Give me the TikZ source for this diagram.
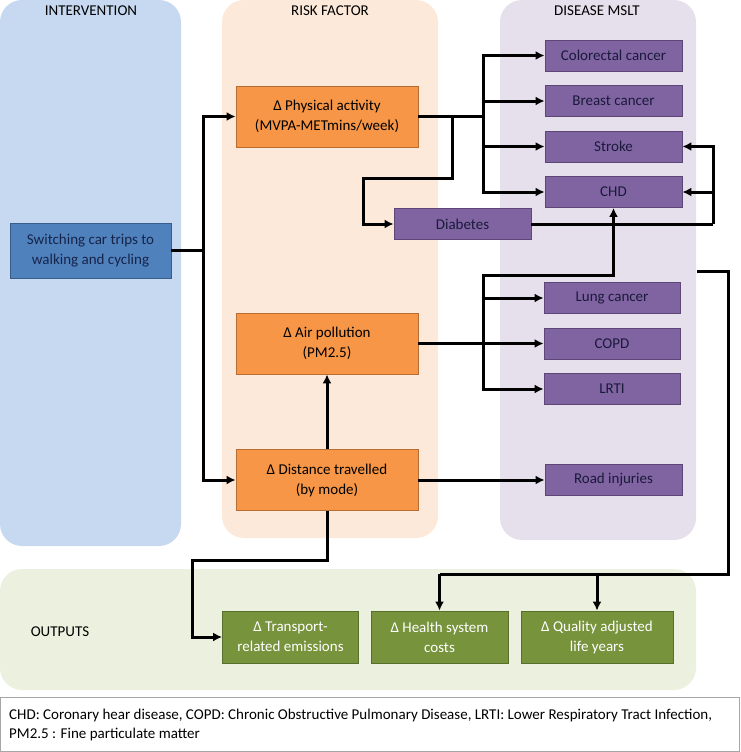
\documentclass[tikz,border=0pt]{standalone}
\usepackage{fontspec}
\setmainfont{Carlito}
\usetikzlibrary{arrows.meta}
\definecolor{IntPanel}{HTML}{C6D9F1}
\definecolor{RiskPanel}{HTML}{FDE9D9}
\definecolor{DisPanel}{HTML}{E5E0EC}
\definecolor{OutPanel}{HTML}{EBF1DE}
\definecolor{SwBox}{HTML}{4F81BD}
\definecolor{SwEdge}{HTML}{385D8A}
\definecolor{SwText}{HTML}{17244A}
\definecolor{RiskBox}{HTML}{F79646}
\definecolor{RiskEdge}{HTML}{B66D31}
\definecolor{DisBox}{HTML}{8064A2}
\definecolor{DisEdge}{HTML}{5C4776}
\definecolor{DisText}{HTML}{1A1A3A}
\definecolor{OutBox}{HTML}{77933C}
\definecolor{OutEdge}{HTML}{5A6E2D}
\definecolor{NoteEdge}{HTML}{A6A6A6}

\begin{document}
\begin{tikzpicture}[x=1pt,y=-1pt,
  panel/.style={rounded corners=22pt},
  heading/.style={font=\fontsize{15}{18}\selectfont},
  box/.style={draw,line width=0.8pt,minimum width=137pt,minimum height=31pt,
    inner sep=1pt,align=center,font=\fontsize{15}{20}\selectfont},
  swbox/.style={box,fill=SwBox,draw=SwEdge,text=SwText,minimum width=161pt,minimum height=55pt},
  riskbox/.style={box,fill=RiskBox,draw=RiskEdge,minimum width=182pt,minimum height=61pt},
  disbox/.style={box,fill=DisBox,draw=DisEdge,text=DisText},
  outbox/.style={box,fill=OutBox,draw=OutEdge,text=white,minimum height=52pt},
  link/.style={line width=3pt},
  arr/.style={link,-{Latex[length=9pt,width=9pt]}}]
  \useasboundingbox (0,0) rectangle (740,752);

  % background panels
  \fill[panel,IntPanel] (0,0) rectangle (181,546);
  \fill[panel,RiskPanel] (222,0) rectangle (438,538);
  \fill[panel,DisPanel] (500,0) rectangle (696,540);
  \fill[panel,OutPanel] (0,569) rectangle (696,690);
  \draw[NoteEdge,line width=1pt] (0.5,697) rectangle (739.5,751.5);

  \node[heading] (hint) at (91,11) {INTERVENTION};
  \node[heading] (hrisk) at (330,11) {RISK FACTOR};
  \node[heading] (hdis) at (597,11) {DISEASE MSLT};
  \node[heading] (hout) at (60,632) {OUTPUTS};

  % boxes
  \node[swbox] (sw) at (90.5,250.5) {Switching car trips to\\walking and cycling};
  \node[riskbox] (pa) at (327,116.5) {Δ Physical activity\\(MVPA-METmins/week)};
  \node[riskbox] (ap) at (327,343.5) {Δ Air pollution\\(PM2.5)};
  \node[riskbox] (dt) at (327,480) {Δ Distance travelled\\(by mode)};

  \node[disbox] (crc) at (613.5,55.5) {Colorectal cancer};
  \node[disbox] (brc) at (613.5,101) {Breast cancer};
  \node[disbox] (stk) at (613.5,146.5) {Stroke};
  \node[disbox] (chd) at (613.5,192) {CHD};
  \node[disbox] (dia) at (462.5,224) {Diabetes};
  \node[disbox,minimum width=136pt] (lc) at (612,298) {Lung cancer};
  \node[disbox,minimum width=136pt] (copd) at (612,343.5) {COPD};
  \node[disbox,minimum width=136pt] (lrti) at (612,389) {LRTI};
  \node[disbox] (road) at (613.5,480) {Road injuries};

  \node[outbox,minimum width=136pt] (em) at (290.5,637) {Δ Transport-\\related emissions};
  \node[outbox] (hs) at (439.5,637) {Δ Health system\\costs};
  \node[outbox,minimum width=152pt] (qa) at (597,637) {Δ Quality adjusted\\life years};

  \node[anchor=north west,align=left,inner sep=0pt,font=\fontsize{15}{19}\selectfont] (note) at (9,709)
    {CHD: Coronary hear disease, COPD: Chronic Obstructive Pulmonary Disease, LRTI: Lower Respiratory Tract Infection,\\PM2.5 : Fine particulate matter};

  % connectors
  \coordinate (sj) at (203,250.5);
  \draw[link] (sw) -- (sj);
  \draw[arr] (sj) |- (pa);
  \draw[arr] (sj) |- (dt);

  \coordinate (pj) at (483,116.5);
  \draw[link] (pa) -- (pj);
  \draw[arr] (pj) |- (crc);
  \draw[arr] (pj) |- (brc);
  \draw[arr] (pj) |- (stk);
  \draw[arr] (pj) |- (chd);
  \coordinate (pd1) at (452,116.5);
  \coordinate (pd2) at (363,178);
  \draw[arr] (pd1) |- (pd2) |- (dia);

  \coordinate (dj) at (713,224);
  \draw[link] (dia) -- (dj);
  \draw[arr] (dj) |- (stk);
  \draw[arr] (dj) |- (chd);

  \coordinate (aj) at (483,343.5);
  \coordinate (ac) at (483,275);
  \draw[arr] (ap) -- (copd);
  \draw[arr] (aj) |- (lc);
  \draw[arr] (aj) |- (lrti);
  \draw[arr] (aj) -- (ac) -| (chd);

  \draw[arr] (dt) -- (ap);
  \draw[arr] (dt) -- (road);
  \coordinate (ed) at (192,560);
  \draw[arr] (dt) |- (ed) |- (em);

  \coordinate (o1) at (697,271);
  \coordinate (o2) at (728,574);
  \coordinate (hj) at (439.5,574);
  \coordinate (qj) at (597,574);
  \draw[link] (o1) -| (o2) -- (hj);
  \draw[arr] (hj) -- (hs);
  \draw[arr] (qj) -- (qa);
\end{tikzpicture}
\end{document}
